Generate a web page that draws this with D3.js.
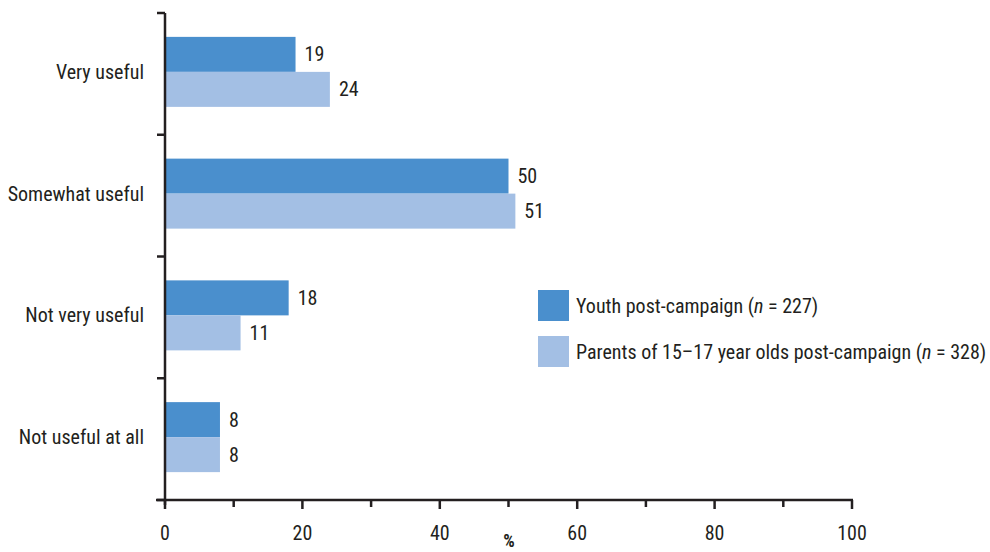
<!DOCTYPE html>
<html><head><meta charset="utf-8">
<script src="https://cdn.jsdelivr.net/npm/d3@7"></script>
<style>
body{margin:0;background:#fff;}
svg text{font-family:"Liberation Sans Narrow","Roboto Condensed","Arial Narrow",sans-serif;fill:#231f20;}
</style></head>
<body><svg id="c" width="990" height="552"></svg>
<script>
const categories = ["Very useful","Somewhat useful","Not very useful","Not useful at all"];
const youth = [19,50,18,8];
const parents = [24,51,11,8];
const seriesNames = ["Youth post-campaign","Parents of 15\u201317 year olds post-campaign"];
const seriesN = ["227","328"];
const colors = ["#4a8fcd","#a3bfe4"];
const xTicks = [0,10,20,30,40,50,60,70,80,90,100];

(function(){
const svg = d3.select("#c");
const mLeft = 165, mRight = 852, mTop = 13, mBottom = 500;
const x = d3.scaleLinear().domain([0,100]).range([mLeft,mRight]);
const y = d3.scaleBand().domain(categories).range([mTop,mBottom]);
const barH = 35;
const fs = 20;

const g = svg.append("g");
categories.forEach((c,i)=>{
  const cy = y(c) + y.bandwidth()/2 - 2;
  [youth[i], parents[i]].forEach((v,j)=>{
    const y0 = j===0 ? cy - barH : cy;
    g.append("rect").attr("x",x(0)).attr("y",y0).attr("width",x(v)-x(0)).attr("height",barH).attr("fill",colors[j]);
    g.append("text").attr("x",x(v)+9).attr("y",y0+barH/2+7).attr("font-size",fs).text(v);
  });
  g.append("text").attr("x",144).attr("y",cy+7).attr("text-anchor","end").attr("font-size",fs).text(c);
});

const ax = "#231f20";
g.append("line").attr("x1",mLeft).attr("x2",mLeft).attr("y1",mTop).attr("y2",mBottom+5).attr("stroke",ax).attr("stroke-width",2.5);
const bounds = categories.map(c=>y(c)).concat([mBottom]);
bounds.forEach(b=>{
  g.append("line").attr("x1",mLeft-8).attr("x2",mLeft).attr("y1",b).attr("y2",b).attr("stroke",ax).attr("stroke-width",2.5);
});
g.append("line").attr("x1",mLeft-9).attr("x2",mRight+1).attr("y1",mBottom).attr("y2",mBottom).attr("stroke",ax).attr("stroke-width",2.5);
xTicks.forEach(t=>{
  const major = t%20===0;
  g.append("line").attr("x1",x(t)).attr("x2",x(t)).attr("y1",mBottom).attr("y2",mBottom+(major?9:7)).attr("stroke",ax).attr("stroke-width",2.5);
  if(major) g.append("text").attr("x",x(t)).attr("y",540).attr("text-anchor","middle").attr("font-size",fs).text(t);
});
g.append("text").attr("x",509).attr("y",547).attr("text-anchor","middle").attr("font-size",18).attr("font-weight","bold").text("%");

seriesNames.forEach((s,i)=>{
  const ly = 290 + i*46;
  g.append("rect").attr("x",538).attr("y",ly).attr("width",31).attr("height",31).attr("fill",colors[i]);
  const t = g.append("text").attr("x",576).attr("y",ly+23).attr("font-size",fs);
  t.append("tspan").text(s+" (");
  t.append("tspan").attr("font-style","italic").text("n");
  t.append("tspan").text(" = "+seriesN[i]+")");
});
})();
</script></body></html>
